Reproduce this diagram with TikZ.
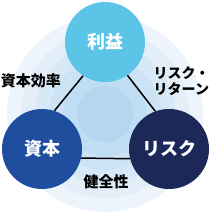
\documentclass[tikz,border=0pt]{standalone}
\usepackage{fontspec}
\setmainfont{Noto Sans CJK JP}
\definecolor{ringA}{HTML}{EEF4FB}
\definecolor{ringB}{HTML}{E3EEF8}
\definecolor{ringC}{HTML}{D7E9F6}
\definecolor{ringD}{HTML}{CBE3F5}
\definecolor{ringE}{HTML}{BFDEF4}
\definecolor{ringF}{HTML}{B4D6EF}
\definecolor{topc}{HTML}{5CC4E6}
\definecolor{leftc}{HTML}{1F4E9F}
\definecolor{rightc}{HTML}{1B2858}
\tikzset{
  bigcirc/.style={circle, minimum size=80pt, inner sep=0pt, text=white,
    font=\fontsize{18}{21}\selectfont\bfseries},
  link/.style={line width=1.5pt, black},
  lbl/.style={inner sep=0pt, text=black, font=\fontsize{15}{16.5}\selectfont\bfseries}
}
\begin{document}
\begin{tikzpicture}[x=1pt,y=1pt]
\useasboundingbox (0,0) rectangle (210,-217);
\fill[ringA] (105,-114) circle (98);
\fill[ringB] (105,-114) circle (84);
\fill[ringC] (105,-114) circle (70);
\fill[ringD] (105,-114) circle (56);
\fill[ringE] (105,-114) circle (42);
\fill[ringF] (105,-114) circle (28);
\node[bigcirc, fill=topc] (profit) at (105,-42) {利益};
\node[bigcirc, fill=leftc] (capital) at (42,-149) {資本};
\node[bigcirc, fill=rightc] (risk) at (169,-149) {リスク};
\draw[link] (profit.237) -- (capital.72);
\draw[link] (profit.304) -- (risk.110);
\draw[link] (capital.347) -- (risk.194);
\node[lbl] (eff) at (31,-81) {資本効率};
\node[lbl, anchor=west, align=left, font=\fontsize{14}{15.5}\selectfont\bfseries] (rr) at (153.5,-81) {リスク・\\リターン};
\node[lbl] (health) at (106,-182) {健全性};
\end{tikzpicture}
\end{document}
